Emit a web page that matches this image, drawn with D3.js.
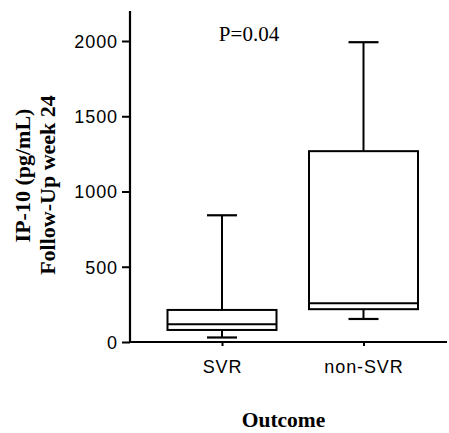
<!DOCTYPE html>
<html>
<head>
<meta charset="utf-8">
<script src="https://cdn.jsdelivr.net/npm/d3@7"></script>
<style>
  html, body { margin: 0; padding: 0; background: #fff; }
  svg { display: block; }
</style>
</head>
<body>
<svg id="chart" width="449" height="433"></svg>
<script>
// ---- data ----
const categories = ["SVR", "non-SVR"];
const whiskerLow  = [30, 153];
const q1          = [80, 218];
const median      = [118, 257];
const q3          = [213, 1268];
const whiskerHigh = [842, 1992];
const yTicks = [0, 500, 1000, 1500, 2000];
const pLabel = "P=0.04";
const yLabelLines = ["IP-10 (pg/mL)", "Follow-Up week 24"];
const xLabel = "Outcome";

const svg = d3.select("#chart");

const y = d3.scaleLinear().domain([0, 2200]).range([342, 10.9]);
const x = d3.scalePoint().domain(categories).range([222, 363.5]);

const axisX0 = 130, axisX1 = 447;
const boxW = 109, capW = 30;

// y axis
const yAxis = d3.axisLeft(y).tickValues(yTicks).tickSize(8).tickPadding(4).tickFormat(d3.format("d"));
const gy = svg.append("g").attr("transform", `translate(${axisX0},0)`).call(yAxis);
gy.select(".domain").remove();
gy.selectAll(".tick line").attr("stroke", "#000").attr("stroke-width", 2);
gy.selectAll(".tick text")
  .attr("font-family", "Liberation Sans, Arial, sans-serif")
  .attr("font-size", 18).attr("letter-spacing", "0.9px").attr("fill", "#000")
  .attr("dy", "0.35em");
gy.append("line").attr("x1", 0).attr("x2", 0)
  .attr("y1", y(2200)).attr("y2", y(0) + 1)
  .attr("stroke", "#000").attr("stroke-width", 2.2);

// x axis
const xAxis = d3.axisBottom(x).tickSize(4).tickPadding(21).tickSizeOuter(0);
const gx = svg.append("g").attr("transform", `translate(0,${y(0)})`).call(xAxis);
gx.select(".domain").remove();
gx.selectAll(".tick line").attr("stroke", "#000").attr("stroke-width", 2);
gx.selectAll(".tick text")
  .attr("font-family", "Liberation Sans, Arial, sans-serif")
  .attr("font-size", 18).attr("letter-spacing", "0.9px").attr("fill", "#000")
  .attr("dy", "0.35em");
gx.append("line").attr("x1", axisX0 - 1).attr("x2", axisX1)
  .attr("y1", 0).attr("y2", 0)
  .attr("stroke", "#000").attr("stroke-width", 2.2);

// boxes
const data = categories.map((c, i) => ({
  c, lo: whiskerLow[i], q1: q1[i], med: median[i], q3: q3[i], hi: whiskerHigh[i]
}));

const g = svg.append("g").attr("stroke", "#000").attr("fill", "none");
const b = g.selectAll("g.box").data(data).join("g").attr("class", "box");

// whiskers (vertical)
b.append("line")
  .attr("x1", d => x(d.c)).attr("x2", d => x(d.c))
  .attr("y1", d => y(d.q3)).attr("y2", d => y(d.hi))
  .attr("stroke-width", 2);
b.append("line")
  .attr("x1", d => x(d.c)).attr("x2", d => x(d.c))
  .attr("y1", d => y(d.q1)).attr("y2", d => y(d.lo))
  .attr("stroke-width", 2);
// caps
b.append("line")
  .attr("x1", d => x(d.c) - capW / 2).attr("x2", d => x(d.c) + capW / 2)
  .attr("y1", d => y(d.hi)).attr("y2", d => y(d.hi))
  .attr("stroke-width", 2.2);
b.append("line")
  .attr("x1", d => x(d.c) - capW / 2).attr("x2", d => x(d.c) + capW / 2)
  .attr("y1", d => y(d.lo)).attr("y2", d => y(d.lo))
  .attr("stroke-width", 2.2);
// box
b.append("rect")
  .attr("x", d => x(d.c) - boxW / 2)
  .attr("width", boxW)
  .attr("y", d => y(d.q3))
  .attr("height", d => y(d.q1) - y(d.q3))
  .attr("fill", "#fff")
  .attr("stroke-width", 2);
// median
b.append("line")
  .attr("x1", d => x(d.c) - boxW / 2).attr("x2", d => x(d.c) + boxW / 2)
  .attr("y1", d => y(d.med)).attr("y2", d => y(d.med))
  .attr("stroke-width", 2);

// P value
svg.append("text")
  .attr("x", 249).attr("y", 41)
  .attr("text-anchor", "middle")
  .attr("font-family", "Liberation Serif, Times New Roman, serif")
  .attr("font-size", 21)
  .attr("fill", "#000")
  .text(pLabel);

// y label (two lines, rotated)
const ylab = [
  { t: yLabelLines[0], x: 30, cy: 175.5 },
  { t: yLabelLines[1], x: 55, cy: 185 }
];
svg.selectAll("text.ylab").data(ylab).join("text")
  .attr("class", "ylab")
  .attr("transform", d => `translate(${d.x},${d.cy}) rotate(-90)`)
  .attr("text-anchor", "middle")
  .attr("font-family", "Liberation Serif, Times New Roman, serif")
  .attr("font-weight", "bold")
  .attr("font-size", 22)
  .attr("fill", "#000")
  .text(d => d.t);

// x label
svg.append("text")
  .attr("x", 283.5).attr("y", 427)
  .attr("text-anchor", "middle")
  .attr("font-family", "Liberation Serif, Times New Roman, serif")
  .attr("font-weight", "bold")
  .attr("font-size", 21.5)
  .attr("fill", "#000")
  .text(xLabel);
</script>
</body>
</html>
